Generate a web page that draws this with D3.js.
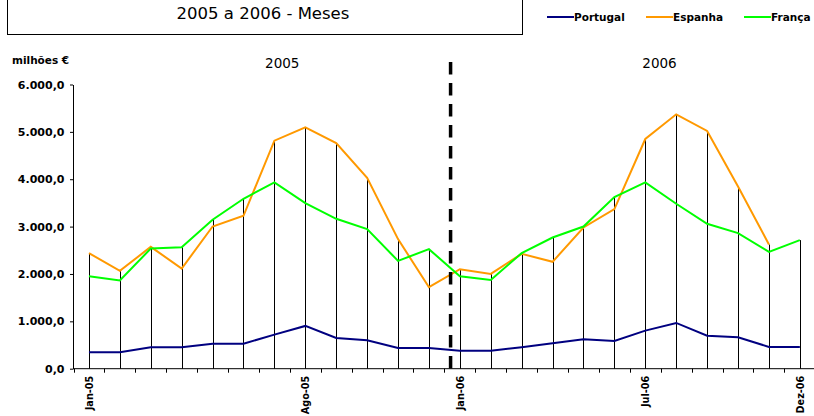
<!DOCTYPE html>
<html><head><meta charset="utf-8">
<script src="https://cdn.jsdelivr.net/npm/d3@7"></script>
<style>
html,body{margin:0;padding:0;background:#fff;}
svg{display:block;font-family:"DejaVu Sans",Verdana,sans-serif;}
</style></head>
<body><svg id="c" width="814" height="416"></svg>
<script>
const months = ["Jan-05","Fev-05","Mar-05","Abr-05","Mai-05","Jun-05","Jul-05","Ago-05","Set-05","Out-05","Nov-05","Dez-05",
                "Jan-06","Fev-06","Mar-06","Abr-06","Mai-06","Jun-06","Jul-06","Ago-06","Set-06","Out-06","Nov-06","Dez-06"];
const tickLabels = ["Jan-05","Ago-05","Jan-06","Jul-06","Dez-06"];
const portugal = [347,347,452,452,529,529,719,903,649,600,438,438,
                  381,381,452,536,621,585,804,966,698,663,459,459];
const espanha  = [2440,2065,2573,2114,3002,3228,4814,5095,4765,4032,2736,1721,
                  2101,2002,2425,2256,2981,3370,4850,5370,5019,3848,2622,null];
const franca   = [1953,1861,2537,2566,3144,3588,3932,3497,3165,2947,2277,2524,
                  1953,1875,2440,2770,3002,3624,3932,3482,3059,2863,2467,2715];
const seriesNames = ["Portugal","Espanha","França"];
const seriesColors = ["#000080","#FF9900","#00FF00"];
const yTicks = [0,1000,2000,3000,4000,5000,6000];
const yearLabels = ["2005","2006"];
const titleText = "2005 a 2006 - Meses";
const unitText = "milhões €";

const svg = d3.select("#c");
svg.append("rect").attr("width",814).attr("height",416).attr("fill","#fff");

const x = d3.scaleBand().domain(months).range([73.5,815.3]).padding(0);
const bw = x.bandwidth();
const cx = m => x(m) + bw/2;
const y = d3.scaleLinear().domain([0,6000]).range([368.7,84.5]);

const fmt = d3.formatLocale({decimal:",",thousands:".",grouping:[3],currency:["","€"]}).format(",.1f");

// title box
svg.append("rect").attr("x",7.5).attr("y",-40).attr("width",515).attr("height",74.5)
  .attr("fill","#fff").attr("stroke","#000").attr("stroke-width",1);
svg.append("text").attr("x",263).attr("y",18.5).attr("text-anchor","middle")
  .attr("font-size",16.5).attr("fill","#000").text(titleText);

// legend
const legX = [547,646,744];
seriesNames.forEach((n,i)=>{
  svg.append("line").attr("x1",legX[i]).attr("x2",legX[i]+27).attr("y1",17).attr("y2",17)
    .attr("stroke",seriesColors[i]).attr("stroke-width",2);
  svg.append("text").attr("x",legX[i]+27).attr("y",20.8).attr("font-size",10.5)
    .attr("font-weight","bold").attr("fill","#000").text(n);
});

// unit label
svg.append("text").attr("x",12).attr("y",63.5).attr("font-size",10.5).attr("font-weight","bold").text(unitText);

// year labels
svg.append("text").attr("x",x(months[6])+0.754*bw).attr("y",68).attr("text-anchor","middle")
  .attr("font-size",13.5).text(yearLabels[0]);
svg.append("text").attr("x",x(months[18])+0.96*bw).attr("y",68).attr("text-anchor","middle")
  .attr("font-size",13.5).text(yearLabels[1]);

// drop lines
const vals = [portugal,espanha,franca];
svg.append("g").selectAll("line").data(months).join("line")
  .attr("x1",(m)=>Math.round(cx(m))+0.5).attr("x2",(m)=>Math.round(cx(m))+0.5)
  .attr("y1",(m,i)=>y(d3.max(vals,v=>v[i]))).attr("y2",y(0))
  .attr("stroke","#000").attr("stroke-width",1);

// series
vals.forEach((v,si)=>{
  const line = d3.line().defined(d=>d!=null).x((d,i)=>cx(months[i])).y(d=>y(d));
  svg.append("path").datum(v).attr("d",line).attr("fill","none")
    .attr("stroke",seriesColors[si]).attr("stroke-width",2);
});

// separator
const sepX = x(months[12]) + 0.2*bw;
svg.append("line").attr("x1",sepX).attr("x2",sepX).attr("y1",62).attr("y2",369)
  .attr("stroke","#000").attr("stroke-width",3.5).attr("stroke-dasharray","12.5,8.5");

// y axis
const gy = svg.append("g").attr("transform","translate(73,0)")
  .call(d3.axisLeft(y).tickValues(yTicks).tickFormat(fmt).tickSize(3).tickSizeOuter(0));
gy.select(".domain").attr("stroke","#000");
gy.selectAll("text").attr("font-size",11).attr("font-weight","bold").attr("font-family","DejaVu Sans")
  .attr("x",-8.5).attr("fill","#000");

// x axis
const gx = svg.append("g").attr("transform",`translate(0,${y(0)})`);
gx.append("line").attr("x1",73).attr("x2",814).attr("y1",0).attr("y2",0).attr("stroke","#000");
gx.selectAll("line.t").data(months).join("line").attr("class","t")
  .attr("x1",m=>Math.round(x(m))+0.5).attr("x2",m=>Math.round(x(m))+0.5)
  .attr("y1",0).attr("y2",4).attr("stroke","#000");
gx.selectAll("text").data(tickLabels).join("text")
  .attr("transform",m=>`translate(${cx(m)+3.8},7) rotate(-90)`)
  .attr("text-anchor","end").attr("font-size",9.7).attr("font-weight","bold").text(m=>m);
</script></body></html>
